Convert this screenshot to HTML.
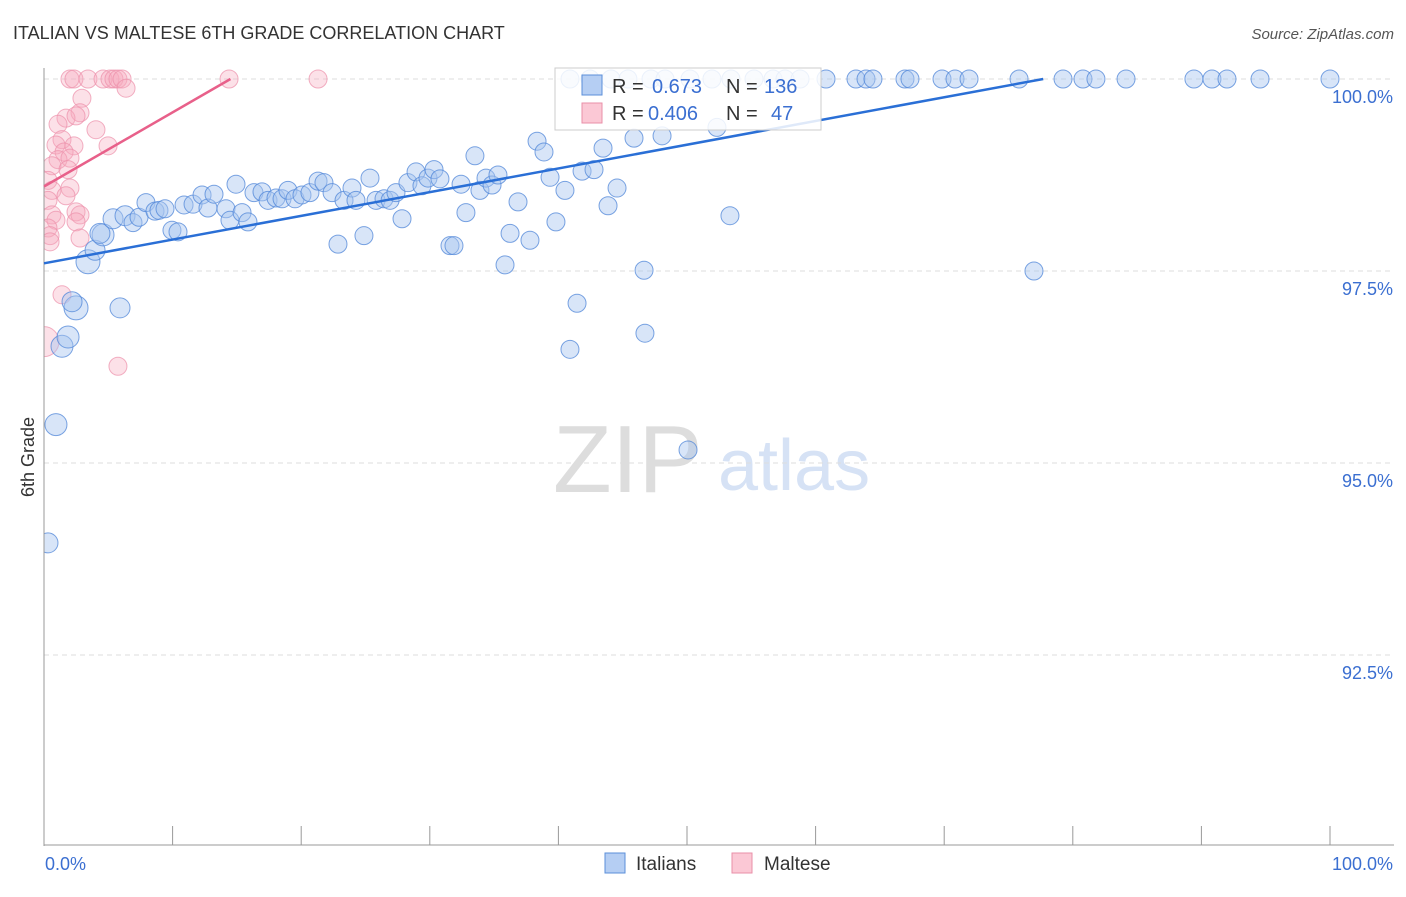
<!DOCTYPE html>
<html><head><meta charset="utf-8"><style>
body{margin:0;background:#fff;font-family:"Liberation Sans",sans-serif;}
svg text{font-family:"Liberation Sans",sans-serif;}
</style></head><body>
<svg id="chart" width="1406" height="892" xmlns="http://www.w3.org/2000/svg">
<defs><clipPath id="plotclip"><rect x="44" y="0" width="1362" height="846"/></clipPath></defs>
<text x="13" y="39" font-size="18" fill="#333">ITALIAN VS MALTESE 6TH GRADE CORRELATION CHART</text>
<text x="1394" y="39" font-size="15" fill="#555" font-style="italic" text-anchor="end">Source: ZipAtlas.com</text>
<text x="34" y="457" font-size="18" fill="#333" transform="rotate(-90 34 457)" text-anchor="middle">6th Grade</text>
<g>
<text x="553" y="492" font-size="96" fill="#ddd" font-family="Liberation Serif">ZIP</text>
<text x="718" y="490" font-size="72" fill="#d6e2f5">atlas</text>
</g>
<g id="grid"></g><g id="marks" clip-path="url(#plotclip)"></g><g id="axes"></g><g id="lines"></g>
<g>
<rect x="555" y="68" width="266" height="62" fill="#fff" fill-opacity="0.85" stroke="#ccc"/>
<rect x="582" y="75" width="20" height="20" fill="#b5cef3" stroke="#5b8fd9"/>
<text x="612" y="93" font-size="20" fill="#333">R = </text><text x="652" y="93" font-size="20" fill="#3b6fd1">0.673</text>
<text x="726" y="93" font-size="20" fill="#333">N = </text><text x="764" y="93" font-size="20" fill="#3b6fd1">136</text>
<rect x="582" y="103" width="20" height="20" fill="#fbc8d5" stroke="#ea8fa8"/>
<text x="612" y="120" font-size="20" fill="#333">R = </text><text x="648" y="120" font-size="20" fill="#3b6fd1">0.406</text>
<text x="726" y="120" font-size="20" fill="#333">N = </text><text x="771" y="120" font-size="20" fill="#3b6fd1">47</text>
</g>
<g>
<rect x="605" y="853" width="20" height="20" fill="#b5cef3" stroke="#5b8fd9"/>
<text x="636" y="870" font-size="19" fill="#333">Italians</text>
<rect x="732" y="853" width="20" height="20" fill="#fbc8d5" stroke="#ea8fa8"/>
<text x="764" y="870" font-size="19" fill="#333">Maltese</text>
</g>
</svg>
<script>
const yTicks=[100,97.5,95,92.5];
const yTickLabels=["100.0%","97.5%","95.0%","92.5%"];
const xTickLabels=["0.0%","100.0%"];
const blueX=[0.31,0.93,1.40,1.87,2.49,2.18,5.91,3.42,3.97,4.59,4.35,5.37,6.30,6.92,7.39,7.93,8.63,8.94,9.41,9.95,10.42,10.89,11.59,12.29,12.75,13.22,14.15,14.46,14.93,15.40,15.86,16.33,16.95,17.42,18.04,18.51,18.97,19.52,20.06,20.68,21.31,21.77,22.40,22.86,23.33,23.95,24.26,24.88,25.35,25.82,26.44,26.91,27.37,27.84,28.30,28.93,29.39,29.86,30.33,30.79,31.57,31.88,32.43,32.81,33.51,33.90,34.37,34.84,35.30,35.85,36.24,36.86,37.79,38.34,38.88,39.35,39.81,40.51,40.90,41.45,41.84,42.77,43.47,43.86,44.56,45.88,46.66,46.73,48.06,50.08,52.33,53.34,76.98,
40.9,42.46,44.09,45.41,47.2,48.29,50.23,51.94,53.42,55.21,56.69,57.62,58.79,60.81,63.14,63.92,64.46,66.95,67.34,69.83,70.84,71.93,75.82,79.24,80.79,81.8,84.14,89.42,90.82,91.99,94.56,100];
const blueY=[93.96,95.50,96.52,96.64,97.02,97.10,97.02,97.62,97.77,97.97,97.99,98.18,98.22,98.13,98.20,98.39,98.28,98.29,98.31,98.03,98.01,98.36,98.37,98.49,98.32,98.50,98.31,98.16,98.63,98.26,98.14,98.52,98.53,98.42,98.45,98.44,98.55,98.44,98.49,98.52,98.67,98.65,98.52,97.85,98.42,98.58,98.42,97.96,98.71,98.42,98.44,98.42,98.52,98.18,98.65,98.79,98.61,98.71,98.82,98.70,97.83,97.83,98.63,98.26,99.00,98.55,98.71,98.62,98.75,97.58,97.99,98.40,97.90,99.19,99.05,98.72,98.14,98.55,96.48,97.08,98.80,98.82,99.10,98.35,98.58,99.23,97.51,96.69,99.26,95.17,99.37,98.22,97.50,
100,100,100,100,100,100,100,100,100,100,100,100,100,100,100,100,100,100,100,100,100,100,100,100,100,100,100,100,100,100,100,100];
const blueSize=[10,11,11,11,12,10,10,12,10,11,10,10,10];
const pinkX=[2.02,2.33,3.42,4.59,5.13,5.44,5.75,6.07,14.39,21.31,6.38,2.95,2.80,1.71,2.49,1.09,1.40,4.04,0.93,2.33,4.98,1.56,1.09,2.02,0.62,1.87,0.31,2.02,0.62,1.71,0.31,0.62,0.93,2.49,2.80,2.49,0.31,0.47,2.80,0.47,1.40,5.75,0];
const pinkY=[100,100,100,100,100,100,100,100,100,100,99.88,99.75,99.56,99.49,99.52,99.41,99.21,99.34,99.14,99.13,99.13,99.05,98.95,98.97,98.87,98.82,98.68,98.58,98.55,98.48,98.42,98.23,98.16,98.27,98.23,98.14,98.06,97.96,97.93,97.88,97.19,96.26,96.58];
const blueLine=[[0,97.6],[77.7,100]];
const pinkLine=[[0,98.6],[14.5,100]];
const NS="http://www.w3.org/2000/svg";
const X=v=>44+v*12.86;
const Y=v=>79+(100-v)*76.8;
function mk(t,a,p){const e=document.createElementNS(NS,t);for(const k in a)e.setAttribute(k,a[k]);p.appendChild(e);return e;}
const grid=document.getElementById('grid'),axes=document.getElementById('axes'),marks=document.getElementById('marks'),lines=document.getElementById('lines');
yTicks.forEach((t,i)=>{
 const g=mk('line',{x1:44,x2:1394,y1:Y(t),y2:Y(t),stroke:'#ddd','stroke-dasharray':'5,4'},grid);
 
 
 const l=mk('text',{x:1393,y:Y(t)+24,'font-size':18,fill:'#3b6fd1','text-anchor':'end'},axes);
 l.textContent=yTickLabels[i];
 
 
});
const ax=mk('line',{x1:44,x2:44,y1:68,y2:846,stroke:'#999'},axes);


const bx=mk('line',{x1:44,x2:1394,y1:845,y2:845,stroke:'#999'},axes);


for(let i=0;i<=10;i++){
 const t=mk('line',{x1:X(i*10),x2:X(i*10),y1:826,y2:845,stroke:'#999'},axes);
 
 
}
[[0,'start',45],[100,'end',1393]].forEach((d,i)=>{
 const l=mk('text',{x:d[2],y:870,'font-size':18,fill:'#3b6fd1','text-anchor':d[1]},axes);
 l.textContent=xTickLabels[i];
 
 
});
pinkX.forEach((v,i)=>{
 const r=i===pinkX.length-1?15:9;
 const c=mk('circle',{cx:X(v),cy:Y(pinkY[i]),r:r,fill:'#f7a8bd','fill-opacity':0.35,stroke:'#ec8fa9','stroke-opacity':0.7},marks);
 
 
});
blueX.forEach((v,i)=>{
 const r=blueSize[i]||9;
 const c=mk('circle',{cx:X(v),cy:Y(blueY[i]),r:r,fill:'#a9c6f0','fill-opacity':0.45,stroke:'#4f86d8','stroke-opacity':0.75},marks);
 
 
});
const bl=mk('line',{x1:X(blueLine[0][0]),y1:Y(blueLine[0][1]),x2:X(blueLine[1][0]),y2:Y(blueLine[1][1]),stroke:'#2a6fd6','stroke-width':2.5},lines);


const pl=mk('line',{x1:X(pinkLine[0][0]),y1:Y(pinkLine[0][1]),x2:X(pinkLine[1][0]),y2:Y(pinkLine[1][1]),stroke:'#e8608a','stroke-width':2.5},lines);


</script>
</body></html>
